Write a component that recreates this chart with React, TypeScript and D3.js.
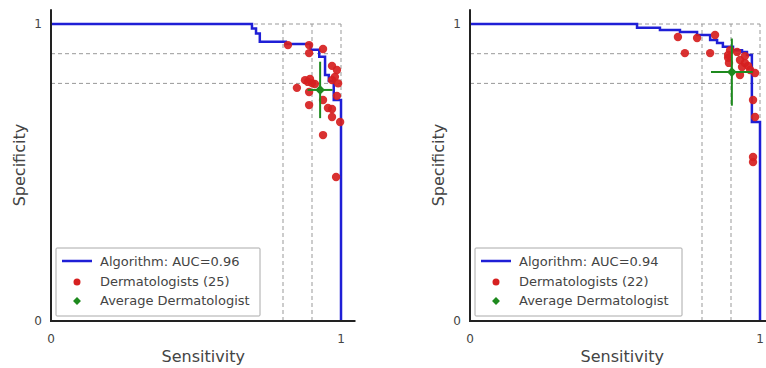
import { useEffect, useRef } from "react";
import * as d3 from "d3";

// ROC step curves: corners (sensitivity, specificity)
const rocSensA = [0, 0.693, 0.707, 0.72, 0.81, 0.895, 0.925, 0.945, 0.958, 0.975, 1.0, 1.0];
const rocSpecA = [1, 0.985, 0.968, 0.94, 0.933, 0.913, 0.89, 0.828, 0.808, 0.744, 0.735, 0];
const rocSensB = [0, 0.576, 0.655, 0.724, 0.783, 0.828, 0.852, 0.872, 0.907, 0.938, 0.955, 0.972, 1.0, 1.0];
const rocSpecB = [1, 0.987, 0.98, 0.973, 0.963, 0.946, 0.936, 0.923, 0.912, 0.906, 0.896, 0.67, 0.67, 0];

// dermatologists (sensitivity, specificity)
const dermSensA = [0.817, 0.89, 0.89, 0.938, 0.969, 0.986, 0.979, 0.969, 0.876, 0.886, 0.9, 0.91, 0.848, 0.89, 0.938, 0.89, 0.955, 0.969, 0.969, 0.997, 0.938, 0.983, 0.986, 0.893, 0.99];
const dermSpecA = [0.929, 0.929, 0.902, 0.916, 0.859, 0.845, 0.822, 0.811, 0.811, 0.805, 0.801, 0.798, 0.785, 0.771, 0.744, 0.727, 0.717, 0.714, 0.687, 0.67, 0.626, 0.485, 0.758, 0.815, 0.8];
const dermSensB = [0.717, 0.741, 0.845, 0.828, 0.783, 0.89, 0.893, 0.921, 0.931, 0.938, 0.931, 0.948, 0.959, 0.983, 0.976, 0.983, 0.976, 0.976, 0.897, 0.948, 0.966, 0.89];
const dermSpecB = [0.956, 0.902, 0.963, 0.902, 0.953, 0.886, 0.869, 0.906, 0.879, 0.855, 0.828, 0.869, 0.859, 0.835, 0.744, 0.687, 0.552, 0.535, 0.912, 0.892, 0.845, 0.896];

// average dermatologist: [sens, spec, sens err, spec err]
const avgA = [0.928, 0.778, 0.043, 0.095];
const avgB = [0.903, 0.838, 0.072, 0.113];

const aucLabels = ["Algorithm: AUC=0.96", "Algorithm: AUC=0.94"];
const dermCounts = [25, 22];
const guides = [0.8, 0.9, 1.0];

const BLUE = "#1f1fd6";
const RED = "#d62020";
const GREEN = "#1e8a1e";
const INK = "#444";

export default function App() {
  const ref = useRef<SVGSVGElement>(null);

  useEffect(() => {
    if (!ref.current) return;
    const svg = d3.select(ref.current);
    svg.selectAll("*").remove();

    const panels = [
      { ox: 51, sens: rocSensA, spec: rocSpecA, ds: dermSensA, dp: dermSpecA, avg: avgA, auc: aucLabels[0], n: dermCounts[0], legW: 204 },
      { ox: 470, sens: rocSensB, spec: rocSpecB, ds: dermSensB, dp: dermSpecB, avg: avgB, auc: aucLabels[1], n: dermCounts[1], legW: 207 },
    ];

    panels.forEach(p => {
      const x = d3.scaleLinear().domain([0, 1.05]).range([p.ox, p.ox + 290 * 1.05]);
      const y = d3.scaleLinear().domain([0, 1.05]).range([321, 321 - 297 * 1.05]);
      const g = svg.append("g");

      // dashed guides
      guides.forEach(v => {
        g.append("line").attr("x1", x(v)).attr("x2", x(v)).attr("y1", y(0)).attr("y2", y(1))
          .attr("stroke", "#999").attr("stroke-dasharray", "4,3");
        g.append("line").attr("x1", x(0)).attr("x2", x(1)).attr("y1", y(v)).attr("y2", y(v))
          .attr("stroke", "#999").attr("stroke-dasharray", "4,3");
      });

      // ROC curve
      const pts = p.sens.map((s, i) => [s, p.spec[i]] as [number, number]);
      const line = d3.line<[number, number]>().x(d => x(d[0])).y(d => y(d[1])).curve(d3.curveStepAfter);
      g.append("path").attr("d", line(pts)).attr("fill", "none")
        .attr("stroke", BLUE).attr("stroke-width", 2.5);

      // dermatologists
      g.selectAll("circle.derm").data(p.ds).enter().append("circle")
        .attr("class", "derm")
        .attr("cx", d => x(d)).attr("cy", (_, i) => y(p.dp[i])).attr("r", 4.2)
        .attr("fill", RED).attr("fill-opacity", 0.92);

      // average dermatologist
      const [ax, ay, ex, ey] = p.avg;
      g.append("line").attr("x1", x(ax - ex)).attr("x2", x(ax + ex)).attr("y1", y(ay)).attr("y2", y(ay))
        .attr("stroke", GREEN).attr("stroke-width", 2);
      g.append("line").attr("x1", x(ax)).attr("x2", x(ax)).attr("y1", y(ay - ey)).attr("y2", y(ay + ey))
        .attr("stroke", GREEN).attr("stroke-width", 2);
      g.append("path").attr("d", d3.symbol(d3.symbolDiamond2, 60)())
        .attr("transform", `translate(${x(ax)},${y(ay)})`).attr("fill", GREEN);

      // axes (left + bottom spines)
      g.append("line").attr("x1", x(0)).attr("x2", x(0)).attr("y1", y(0)).attr("y2", y(1.05))
        .attr("stroke", "#222").attr("stroke-width", 2);
      g.append("line").attr("x1", x(0) - 1).attr("x2", x(1.05)).attr("y1", y(0)).attr("y2", y(0))
        .attr("stroke", "#222").attr("stroke-width", 2);

      const tf = "'DejaVu Sans', sans-serif";
      [0, 1].forEach(v => {
        g.append("text").attr("x", x(v)).attr("y", 343).attr("text-anchor", "middle")
          .attr("font-size", 12).attr("font-family", tf).attr("fill", INK).text(v);
        g.append("text").attr("x", x(0) - 9).attr("y", y(v) + 4).attr("text-anchor", "end")
          .attr("font-size", 12).attr("font-family", tf).attr("fill", INK).text(v);
      });
      g.append("text").attr("x", x(0.525)).attr("y", 362).attr("text-anchor", "middle")
        .attr("font-size", 16).attr("font-family", tf).attr("fill", INK).text("Sensitivity");
      g.append("text").attr("transform", `translate(${x(0) - 26},${y(0.525)}) rotate(-90)`)
        .attr("text-anchor", "middle").attr("font-size", 16).attr("font-family", tf)
        .attr("fill", INK).text("Specificity");

      // legend
      const lx = x(0) + 5, ly = 248;
      const lg = g.append("g").attr("transform", `translate(${lx},${ly})`);
      lg.append("rect").attr("width", p.legW).attr("height", 68).attr("fill", "white")
        .attr("stroke", "#aaa").attr("stroke-width", 1).attr("rx", 1);
      lg.append("line").attr("x1", 6).attr("x2", 36).attr("y1", 13).attr("y2", 13)
        .attr("stroke", BLUE).attr("stroke-width", 2.5);
      lg.append("circle").attr("cx", 21).attr("cy", 34).attr("r", 3.5).attr("fill", RED);
      lg.append("path").attr("d", d3.symbol(d3.symbolDiamond2, 40)())
        .attr("transform", "translate(21,53)").attr("fill", GREEN);
      [p.auc, `Dermatologists (${p.n})`, "Average Dermatologist"].forEach((t, i) => {
        lg.append("text").attr("x", 44).attr("y", 18 + i * 19.5).attr("font-size", 13)
          .attr("font-family", tf).attr("fill", INK).text(t);
      });
    });
  }, []);

  return (
    <svg ref={ref} width={766} height={368}
      style={{ position: "absolute", left: 0, top: 0, background: "white" }} />
  );
}
